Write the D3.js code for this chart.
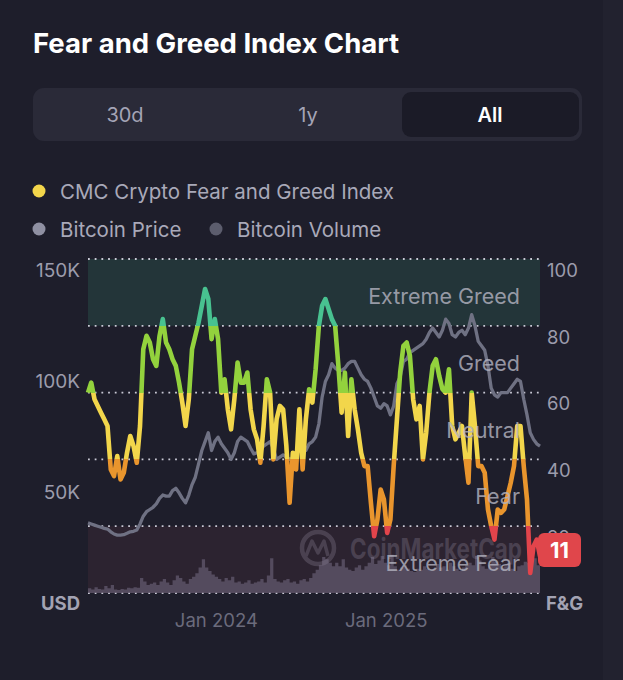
<!DOCTYPE html>
<html>
<head>
<meta charset="utf-8">
<script src="https://cdn.jsdelivr.net/npm/d3@7"></script>
<style>
  html, body { margin: 0; padding: 0; background: #1e1e2b; }
  svg { display: block; font-family: Inter, "Noto Sans", sans-serif; }
</style>
</head>
<body>
<div id="chart"></div>
<script>
// weekly samples, first one on 28 Jun 2023
const startDate = new Date(2023, 5, 28);

// CMC Crypto Fear and Greed Index (0-100)
const fngWeekly = [
  60, 63, 58, 56, 54, 52, 50, 37, 35, 41, 34, 36, 42, 47, 44, 39,
  50, 73, 77, 75, 70, 68, 77, 82, 75, 73, 70, 68, 63, 57, 50,
  58, 73, 77, 81, 86, 91, 88, 76, 82, 76, 60, 64, 55, 49, 58,
  69, 63, 63, 66, 55, 49, 46, 39, 50, 64, 60, 40, 52, 56, 55,
  44, 27, 42, 37, 55, 37, 52, 61, 57, 67, 80, 86, 88, 85, 82,
  80, 68, 54, 66, 47, 64, 55, 49, 42, 38, 38, 27, 17, 22, 31,
  28, 18, 22, 38, 52, 66, 74, 75, 71, 58, 52, 56, 40, 48, 60,
  68, 70, 65, 61, 60, 67, 50, 46, 48, 50, 41, 33, 60, 50, 38,
  38, 36, 25, 20, 16, 25, 24, 25, 29, 33, 38, 50, 50, 38, 28,
  6, 14, 16, 11
];

// Bitcoin price, thousand USD
const priceWeekly = [
  31.5, 31, 30.5, 30, 29.5, 29, 28.7, 27.5, 26.5, 26, 26, 26.2, 26.8, 27.5, 27.7, 28.3,
  31, 34.5, 36.5, 37.5, 38.5, 40, 42.5, 44, 43.5, 43.5, 46, 47, 45, 42.5, 40.5,
  44, 48.7, 52, 58, 64, 68, 72, 64, 68, 70, 67, 65, 63, 60, 63,
  68, 70, 69, 68, 65, 62.5, 63, 64, 66, 67, 68, 65, 60, 61, 62,
  61, 60, 60.5, 63, 64, 63.5, 64, 67, 68, 70, 76, 88, 95, 98, 103,
  101, 100, 100, 101, 103, 104, 104, 101, 98, 96, 95, 92, 88, 84, 83,
  85, 84, 80, 84, 94, 97, 104, 105, 108, 109, 110, 111, 112, 114, 117,
  119, 117, 115, 118, 123, 121, 116, 115, 117, 118, 116, 119, 125, 120, 113,
  111, 109, 102, 92, 89, 88, 90, 90, 90, 92, 94, 96, 95, 87, 80,
  72, 69, 67, 66
];

// Bitcoin volume, billion USD
const volumeWeekly = [
  8, 6, 10, 7, 6, 12, 8, 14, 6, 5, 7, 6, 9, 8, 10, 9,
  26, 20, 14, 16, 18, 14, 20, 24, 18, 14, 22, 30, 26, 20, 16,
  24, 28, 34, 44, 58, 44, 38, 32, 28, 24, 20, 26, 22, 28, 18,
  20, 16, 18, 22, 16, 18, 20, 24, 18, 30, 60, 24, 20, 18, 22,
  24, 18, 20, 16, 22, 24, 20, 26, 34, 40, 48, 62, 58, 52, 46,
  52, 46, 58, 44, 40, 38, 44, 48, 40, 46, 52, 62, 50, 56, 64,
  52, 48, 66, 46, 40, 44, 48, 42, 38, 36, 42, 40, 46, 42, 38,
  42, 50, 44, 46, 40, 52, 46, 42, 38, 44, 48, 52, 48, 64, 56,
  46, 42, 48, 62, 54, 50, 44, 46, 52, 42, 38, 46, 48, 54, 52,
  74, 60, 48, 44
];

const priceTicks = [50, 100, 150];
const fngTicks = [20, 40, 60, 80, 100];
const yearTicks = ["2024-01-01", "2025-01-01"];
const zoneNames = ["Extreme Fear", "Fear", "Neutral", "Greed", "Extreme Greed"];
const zoneBounds = [0, 20, 40, 60, 80, 100];
const tabLabels = ["30d", "1y", "All"];
const latestValue = 11;

const W = 623, H = 680;
const plotLeft = 88, plotRight = 540, plotTop = 259, plotBottom = 593;

const dates = fngWeekly.map((d, i) => d3.timeDay.offset(startDate, 7 * i));

const svg = d3.select("#chart").append("svg")
  .attr("width", W).attr("height", H)
  .attr("viewBox", `0 0 ${W} ${H}`);

svg.append("rect").attr("width", W).attr("height", H).attr("fill", "#1e1e2b");
svg.append("rect").attr("x", 603).attr("width", 20).attr("height", H).attr("fill", "#22222f");

// title
svg.append("text").attr("x", 33).attr("y", 53)
  .attr("fill", "#ffffff").attr("font-size", 27.5).attr("font-weight", 700)
  .text("Fear and Greed Index Chart");

// range tabs
svg.append("rect").attr("x", 33).attr("y", 88).attr("width", 549).attr("height", 53)
  .attr("rx", 11).attr("fill", "#2a2a38");
svg.append("rect").attr("x", 402).attr("y", 92).attr("width", 177).attr("height", 45)
  .attr("rx", 9).attr("fill", "#1b1b27");
const tabX = [125, 308, 490];
svg.selectAll(".tab").data(tabLabels).enter().append("text")
  .attr("x", (d, i) => tabX[i]).attr("y", 121.5)
  .attr("text-anchor", "middle").attr("font-size", 20)
  .attr("font-weight", (d, i) => i === 2 ? 600 : 400)
  .attr("fill", (d, i) => i === 2 ? "#ffffff" : "#a4a4b6")
  .text(d => d);

// legend
const legend = [
  { label: "CMC Crypto Fear and Greed Index", color: "#f3d64b", x: 39, y: 191 },
  { label: "Bitcoin Price", color: "#8f90a2", x: 39, y: 229 },
  { label: "Bitcoin Volume", color: "#5c5d6d", x: 216, y: 229 }
];
legend.forEach(l => {
  svg.append("circle").attr("cx", l.x).attr("cy", l.y).attr("r", 6.5).attr("fill", l.color);
  svg.append("text").attr("x", l.x + 21).attr("y", l.y + 7.5)
    .attr("font-size", 20.5).attr("fill", "#a9a9b9").text(l.label);
});

// scales
const x = d3.scaleTime().domain([dates[0], dates[dates.length - 1]]).range([plotLeft, plotRight]);
const yF = d3.scaleLinear().domain([0, 100]).range([plotBottom, plotTop]);
const yP = d3.scaleLinear().domain([0, 150]).range([plotBottom, plotTop]);
const yV = d3.scaleLinear().domain([0, 100]).range([plotBottom, plotBottom - 58]);

// zone bands
svg.append("rect").attr("x", plotLeft).attr("width", plotRight - plotLeft)
  .attr("y", yF(100)).attr("height", yF(80) - yF(100)).attr("fill", "#233539");
svg.append("rect").attr("x", plotLeft).attr("width", plotRight - plotLeft)
  .attr("y", yF(20)).attr("height", yF(0) - yF(20)).attr("fill", "#2c2330");

// dotted grid
svg.selectAll(".grid").data([0].concat(fngTicks)).enter().append("line")
  .attr("x1", plotLeft).attr("x2", plotRight)
  .attr("y1", d => yF(d)).attr("y2", d => yF(d))
  .attr("stroke", "#c8c8d4").attr("stroke-width", 1.8)
  .attr("stroke-dasharray", "1.8 4.9");

// volume
const volArea = d3.area()
  .x((d, i) => x(dates[i]))
  .y0(plotBottom).y1(d => yV(d))
  .curve(d3.curveStepAfter);
svg.append("path").datum(volumeWeekly)
  .attr("d", volArea).attr("fill", "#5c5266").attr("opacity", 0.85);

// watermark
const wm = svg.append("g").attr("opacity", 0.32);
wm.append("circle").attr("cx", 318).attr("cy", 548).attr("r", 16)
  .attr("fill", "none").attr("stroke", "#8a8095").attr("stroke-width", 4.5);
wm.append("path").attr("d", "M306,556 L312,541 L318,553 L324,541 L328,556")
  .attr("fill", "none").attr("stroke", "#8a8095").attr("stroke-width", 3.5)
  .attr("stroke-linejoin", "round");
wm.append("text").attr("x", 350).attr("y", 559)
  .attr("font-size", 28).attr("font-weight", 700).attr("fill", "#8a8095")
  .attr("textLength", 172).attr("lengthAdjust", "spacingAndGlyphs")
  .text("CoinMarketCap");

// bitcoin price
svg.append("path").datum(priceWeekly)
  .attr("d", d3.line().x((d, i) => x(dates[i])).y(d => yP(d)))
  .attr("fill", "none").attr("stroke", "#6f7183").attr("stroke-width", 3.3)
  .attr("stroke-linejoin", "round");

// fear & greed line coloured by zone
const grad = svg.append("defs").append("linearGradient")
  .attr("id", "fngGrad").attr("gradientUnits", "userSpaceOnUse")
  .attr("x1", 0).attr("x2", 0).attr("y1", yF(100)).attr("y2", yF(0));
const zoneColors = ["#e2444b", "#e9952d", "#f2d64b", "#93d23d", "#48c290"];
[4, 3, 2, 1, 0].forEach(z => {
  const o1 = (100 - zoneBounds[z + 1]) / 100, o2 = (100 - zoneBounds[z]) / 100;
  grad.append("stop").attr("offset", o1).attr("stop-color", zoneColors[z]);
  grad.append("stop").attr("offset", o2).attr("stop-color", zoneColors[z]);
});
svg.append("path").datum(fngWeekly)
  .attr("d", d3.line().x((d, i) => x(dates[i])).y(d => yF(d)))
  .attr("fill", "none").attr("stroke", "url(#fngGrad)").attr("stroke-width", 4.6)
  .attr("stroke-linejoin", "round");

// zone labels
svg.selectAll(".zone").data(zoneNames).enter().append("text")
  .attr("x", 520).attr("y", (d, i) => (yF(zoneBounds[i]) + yF(zoneBounds[i + 1])) / 2 + 11.5)
  .attr("text-anchor", "end").attr("font-size", 21.5)
  .attr("fill", "#b3b3c0").attr("opacity", 0.8)
  .text(d => d);

// left axis
svg.selectAll(".pt").data(priceTicks).enter().append("text")
  .attr("x", 80).attr("y", d => yP(d) + 17.7).attr("text-anchor", "end")
  .attr("font-size", 19).attr("fill", "#9c9cac").text(d => d + "K");
svg.append("text").attr("x", 80).attr("y", 610).attr("text-anchor", "end")
  .attr("font-size", 18.5).attr("font-weight", 700).attr("fill", "#a3a3b3").text("USD");

// right axis
svg.selectAll(".ft").data(fngTicks).enter().append("text")
  .attr("x", 547).attr("y", d => yF(d) + 17.7)
  .attr("font-size", 18.5).attr("fill", "#9c9cac").text(d => d);
svg.append("text").attr("x", 546).attr("y", 610)
  .attr("font-size", 18.5).attr("font-weight", 700).attr("fill", "#a3a3b3").text("F&G");

// x axis
svg.selectAll(".xt").data(yearTicks).enter().append("text")
  .attr("x", d => x(new Date(d + "T00:00:00"))).attr("y", 627)
  .attr("font-size", 18.5).attr("fill", "#6b6b7c")
  .text(d => d3.timeFormat("%b %Y")(new Date(d + "T00:00:00")));

// latest value badge
svg.append("rect").attr("x", 538).attr("y", 533).attr("width", 43).attr("height", 34)
  .attr("rx", 6).attr("fill", "#e0464b");
svg.append("text").attr("x", 559.5).attr("y", 558).attr("text-anchor", "middle")
  .attr("font-size", 22).attr("font-weight", 700).attr("fill", "#ffffff")
  .text(latestValue);
</script>
</body>
</html>
